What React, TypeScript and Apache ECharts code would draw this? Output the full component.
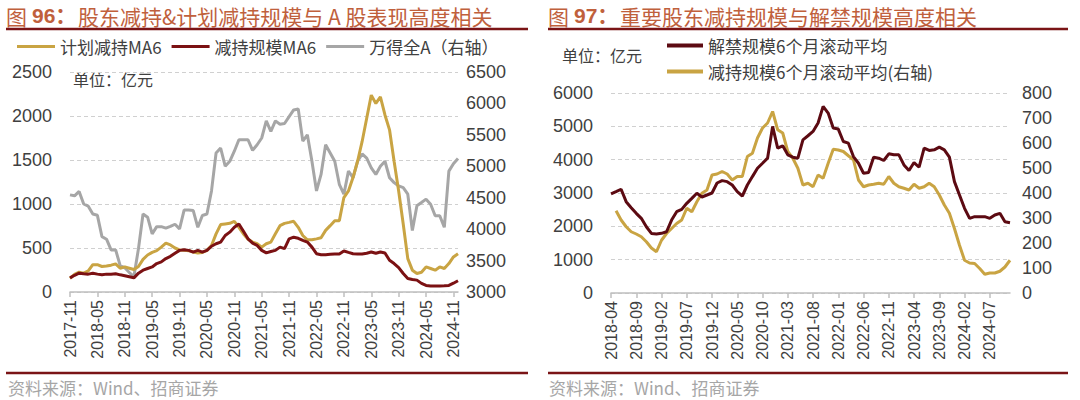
import React, { useEffect, useRef } from "react";
import * as echarts from "echarts";

function monthRange(startYear: number, startMonth: number, count: number): string[] {
  const out: string[] = [];
  let y = startYear;
  let m = startMonth;
  for (let i = 0; i < count; i++) {
    out.push(`${y}-${m < 10 ? "0" + m : m}`);
    m++;
    if (m > 12) { m = 1; y++; }
  }
  return out;
}

// ---------- Figure 96 (left) ----------
const leftCategories = monthRange(2017, 11, 86); // 2017-11 .. 2024-12
const planReduceMA6 = [
  154, 200, 225, 214, 240, 310, 310, 290, 295, 305,
  320, 270, 285, 270, 255, 290, 370, 420, 450, 470,
  510, 555, 535, 500, 478, 473, 470, 454, 443, 450,
  473, 529, 661, 766, 773, 780, 803, 735, 660, 600,
  567, 548, 510, 548, 567, 661, 754, 780, 791, 803,
  735, 642, 593, 593, 604, 616, 700, 754, 810, 810,
  1073, 1148, 1300, 1486, 1711, 1974, 2237, 2143, 2218, 2012,
  1843, 1486, 1148, 773, 379, 248, 210, 225, 285, 267,
  248, 285, 267, 323, 398, 435,
];
const reduceMA6 = [
  160, 190, 214, 207, 203, 214, 203, 195, 203, 203,
  207, 195, 185, 173, 161, 214, 248, 267, 285, 323,
  342, 380, 405, 440, 473, 480, 473, 454, 473, 454,
  473, 520, 548, 567, 642, 680, 735, 773, 690, 604,
  555, 529, 473, 445, 460, 473, 510, 492, 604, 623,
  610, 586, 567, 510, 435, 424, 424, 428, 432, 432,
  466, 450, 435, 432, 432, 440, 454, 440, 454, 443,
  360, 323, 278, 210, 154, 143, 135, 98, 75, 68,
  68, 68, 70, 75, 100, 128,
];
const windAllA = [
  4545, 4530, 4600, 4400, 4365, 4240, 4220, 3880, 3840, 3670,
  3670, 3420, 3385, 3310, 3245, 3690, 4240, 4190, 3925, 4040,
  4040, 4015, 4043, 4078, 4004, 4303, 4303, 4295, 4029, 4218,
  4240, 4608, 5212, 5290, 5002, 5080, 5240, 5422, 5422, 5422,
  5254, 5343, 5450, 5722, 5554, 5722, 5670, 5680, 5790, 5896,
  5912, 5400, 5500, 5081, 4608, 4870, 5343, 5212, 5080, 4713,
  4556, 4923, 4818, 5080, 5196, 5130, 4976, 4870, 5002, 5080,
  4818, 4740, 4687, 4660, 4556, 3977, 4372, 4424, 4477, 4397,
  4214, 4214, 4029, 4923, 5040, 5122,
];

// ---------- Figure 97 (right) ----------
const rightCategories = monthRange(2018, 4, 80); // 2018-04 .. 2024-11
const unlockMA6 = [
  2971, 3040, 3112, 2740, 2560, 2390, 2240, 1987, 1788, 1770,
  1790, 1838, 2188, 2438, 2508, 2690, 2840, 2992, 2880, 2940,
  3000, 3300, 3371, 3341, 3240, 3040, 2910, 3240, 3492, 3743,
  3893, 4045, 4997, 4346, 4416, 4145, 4075, 4045, 4596, 4717,
  4846, 5099, 5599, 5398, 4948, 4918, 4545, 4495, 4094, 3893,
  3593, 3613, 4075, 4045, 3975, 4175, 4145, 4145, 3843, 3673,
  3913, 3773, 4346, 4276, 4296, 4376, 4296, 4075, 3341, 2940,
  2540, 2240, 2290, 2290, 2290, 2240, 2340, 2390, 2137, 2107,
];
const holderReduceMA6 = [
  null, 329, 292, 265, 245, 236, 225, 205, 180, 165,
  211, 238, 258, 278, 292, 339, 325, 365, 399, 412,
  472, 476, 486, 476, 452, 466, 466, 546, 559, 620,
  660, 680, 726, 653, 640, 566, 539, 499, 432, 439,
  425, 472, 459, 519, 575, 572, 566, 549, 533, 452,
  425, 432, 435, 439, 435, 466, 439, 425, 419, 412,
  435, 419, 425, 439, 425, 392, 352, 319, 258, 191,
  131, 120, 118, 98, 75, 80, 80, 87, 104, 131,
];

const GOLD = "#C9A443";
const RED_L = "#7B1113";
const GRAY = "#A6A6A6";
const RED_R = "#5C0A12";
const TITLE_C = "#C0603C";
const RULE_C = "#7A1416";
const TEXT_C = "#404040";
const FONT = '"Liberation Sans", Arial, "Noto Sans CJK SC", sans-serif';
const CJK = '"Noto Sans CJK SC", "Liberation Sans", sans-serif';

function xAxisCfg(gridIndex: number, data: string[], interval: number) {
  return {
    type: "category",
    gridIndex,
    data,
    boundaryGap: false,
    axisLine: { lineStyle: { color: "#BFBFBF", width: 1.5 } },
    axisTick: { show: true, interval, length: 5, lineStyle: { color: "#BFBFBF", width: 1.5 } },
    axisLabel: {
      interval,
      rotate: 90,
      fontSize: 16,
      color: TEXT_C,
      fontFamily: FONT,
      margin: 8,
    },
    splitLine: { show: false },
  };
}

function yAxisCfg(gridIndex: number, min: number, max: number, interval: number, position: string, split: boolean, margin: number) {
  return {
    type: "value",
    gridIndex,
    min,
    max,
    interval,
    position,
    axisLine: { show: false },
    axisTick: { show: false },
    axisLabel: {
      fontSize: 18,
      color: TEXT_C,
      fontFamily: FONT,
      margin,
      formatter: (v: number) => String(v),
    },
    splitLine: split
      ? { show: true, lineStyle: { color: "#D0D0D0", type: [4, 3], width: 1 } }
      : { show: false },
  };
}

function titleParts(x: number, num: string, body: string) {
  return [
    {
      type: "text",
      left: x,
      top: 5,
      style: { text: "图", fontSize: 21, fontFamily: CJK, fill: TITLE_C },
    },
    {
      type: "text",
      left: x + 26,
      top: 5,
      style: { text: num + "：", fontSize: 21, fontFamily: FONT, fontWeight: "bold", fill: TITLE_C },
    },
    {
      type: "text",
      left: x + 72,
      top: 5,
      style: { text: body, fontSize: 21, fontFamily: CJK, fill: TITLE_C },
    },
  ];
}

function rule(x1: number, x2: number, y: number) {
  return {
    type: "line",
    shape: { x1, y1: y, x2, y2: y },
    style: { stroke: RULE_C, lineWidth: 2.5 },
  };
}

function plainText(x: number, y: number, text: string, size: number, color: string) {
  return {
    type: "text",
    left: x,
    top: y,
    style: { text, fontSize: size, fontFamily: CJK, fill: color },
  };
}

export default function App() {
  const ref = useRef<HTMLDivElement>(null);

  useEffect(() => {
    if (!ref.current) return;
    const chart = echarts.init(ref.current, undefined, { renderer: "svg" });
    const line = (name: string, data: any[], color: string, xi: number, yi: number, z: number) => ({
      name,
      type: "line",
      data,
      xAxisIndex: xi,
      yAxisIndex: yi,
      symbol: "none",
      showSymbol: false,
      connectNulls: false,
      lineStyle: { color, width: 3 },
      itemStyle: { color },
      z,
    });

    chart.setOption({
      animation: false,
      backgroundColor: "#FFFFFF",
      textStyle: { fontFamily: FONT },
      grid: [
        { left: 70, width: 388, top: 72, height: 220, containLabel: false },
        { left: 611, width: 399, top: 93, height: 200, containLabel: false },
      ],
      legend: [
        {
          left: 12,
          top: 33,
          itemWidth: 38,
          itemHeight: 3,
          itemGap: 10,
          icon: "rect",
          data: ["计划减持MA6", "减持规模MA6", "万得全A（右轴）"],
          textStyle: { fontSize: 17, color: TEXT_C, fontFamily: CJK },
        },
        {
          left: 662,
          top: 32,
          orient: "vertical",
          itemWidth: 36,
          itemHeight: 4,
          itemGap: 9,
          icon: "rect",
          data: ["解禁规模6个月滚动平均", "减持规模6个月滚动平均(右轴)"],
          textStyle: { fontSize: 17, color: TEXT_C, fontFamily: CJK },
        },
      ],
      xAxis: [xAxisCfg(0, leftCategories, 5), xAxisCfg(1, rightCategories, 4)],
      yAxis: [
        yAxisCfg(0, 0, 2500, 500, "left", true, 18),
        yAxisCfg(0, 3000, 6500, 500, "right", false, 8),
        yAxisCfg(1, 0, 6000, 1000, "left", true, 18),
        yAxisCfg(1, 0, 800, 100, "right", false, 12),
      ],
      series: [
        line("万得全A（右轴）", windAllA, GRAY, 0, 1, 2),
        line("计划减持MA6", planReduceMA6, GOLD, 0, 0, 3),
        line("减持规模MA6", reduceMA6, RED_L, 0, 0, 4),
        line("减持规模6个月滚动平均(右轴)", holderReduceMA6, GOLD, 1, 3, 3),
        line("解禁规模6个月滚动平均", unlockMA6, RED_R, 1, 2, 4),
      ],
      graphic: [
        ...titleParts(6, "96", "股东减持&计划减持规模与 A 股表现高度相关"),
        ...titleParts(548, "97", "重要股东减持规模与解禁规模高度相关"),
        rule(6, 528, 29),
        rule(548, 1068, 29),
        rule(6, 528, 373),
        rule(548, 1068, 373),
        plainText(73, 71, "单位：亿元", 16, TEXT_C),
        plainText(562, 47, "单位：亿元", 16, TEXT_C),
        plainText(8, 379, "资料来源：Wind、招商证券", 17, "#A6A6A6"),
        plainText(549, 379, "资料来源：Wind、招商证券", 17, "#A6A6A6"),
      ],
    });
    return () => chart.dispose();
  }, []);

  return (
    <div
      ref={ref}
      style={{ position: "fixed", left: 0, top: 0, width: 1080, height: 400, background: "#fff" }}
    />
  );
}
